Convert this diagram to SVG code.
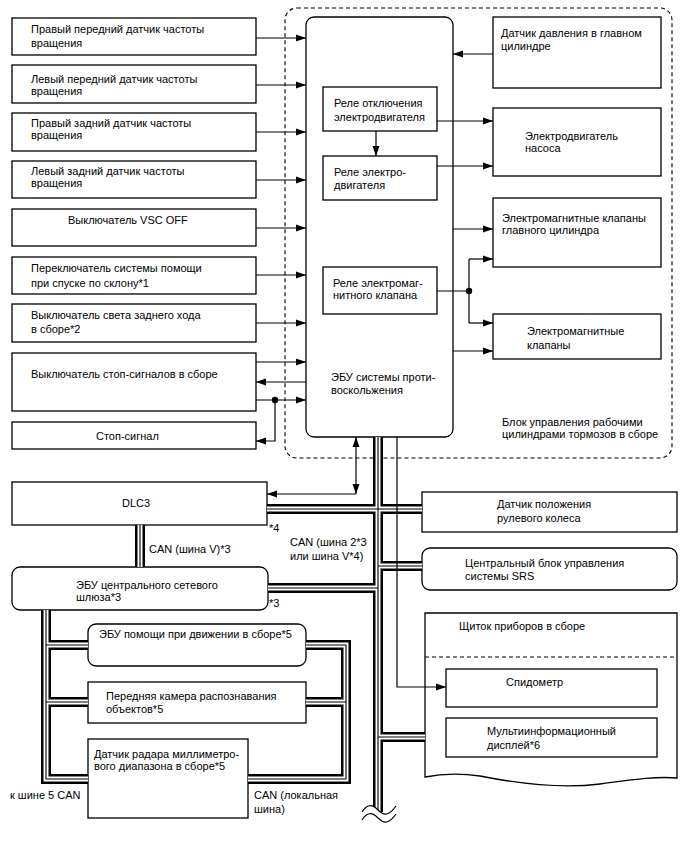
<svg xmlns="http://www.w3.org/2000/svg" width="688" height="852" viewBox="0 0 688 852">
<defs>
<marker id="ah" markerUnits="userSpaceOnUse" markerWidth="11" markerHeight="8" refX="10" refY="4" orient="auto-start-reverse"><path d="M0,0.5 L10,4 L0,7.5 z" fill="#000"/></marker>
<style>
.box{fill:#fff;stroke:#000;stroke-width:1.3}
.t{font-family:"Liberation Sans",Arial,sans-serif;font-size:11px;fill:#000}
.ln{fill:none;stroke:#000;stroke-width:1.2}
.arr{marker-end:url(#ah)}
.bb{fill:none;stroke:#000;stroke-width:10}
.bw{fill:none;stroke:#fff;stroke-width:5}
.bc{fill:none;stroke:#000;stroke-width:1.1}
.dash{fill:none;stroke:#000;stroke-width:1.1;stroke-dasharray:4,3}
</style>
</defs>
<rect width="688" height="852" fill="#fff"/>

<g id="brake-actuator-boundary">
<rect class="dash" x="285" y="8" width="387" height="450" rx="12"/>
<text class="t" x="502" y="426">Блок управления рабочими</text>
<text class="t" x="502" y="438">цилиндрами тормозов в сборе</text>
</g>

<g id="ecu-skid">
<rect class="box" x="306" y="17" width="147" height="420" rx="8"/>
<text class="t" x="331" y="381">ЭБУ системы проти-</text>
<text class="t" x="331" y="394">воскольжения</text>
</g>
<g id="relay-motor-cut">
<rect class="box" x="323" y="87" width="114" height="44"/>
<text class="t" x="334" y="107">Реле отключения</text>
<text class="t" x="334" y="121">электродвигателя</text>
</g>
<g id="relay-motor">
<rect class="box" x="323" y="156" width="114" height="44"/>
<text class="t" x="334" y="176">Реле электро-</text>
<text class="t" x="334" y="189">двигателя</text>
</g>
<g id="relay-solenoid">
<rect class="box" x="323" y="267" width="114" height="47"/>
<text class="t" x="333" y="287">Реле электромаг-</text>
<text class="t" x="333" y="299">нитного клапана</text>
</g>

<g id="fr-speed">
<rect class="box" x="12" y="18" width="244" height="37"/>
<text class="t" x="31" y="33">Правый передний датчик частоты</text>
<text class="t" x="31" y="47">вращения</text>
</g>
<g id="fl-speed">
<rect class="box" x="12" y="65" width="244" height="38"/>
<text class="t" x="31" y="83">Левый передний датчик частоты</text>
<text class="t" x="31" y="95">вращения</text>
</g>
<g id="rr-speed">
<rect class="box" x="12" y="113" width="244" height="38"/>
<text class="t" x="31" y="127">Правый задний датчик частоты</text>
<text class="t" x="31" y="139">вращения</text>
</g>
<g id="rl-speed">
<rect class="box" x="12" y="161" width="244" height="37"/>
<text class="t" x="31" y="175">Левый задний датчик частоты</text>
<text class="t" x="31" y="187">вращения</text>
</g>
<g id="vsc-off">
<rect class="box" x="12" y="209" width="244" height="37"/>
<text class="t" x="68" y="224">Выключатель VSC OFF</text>
</g>
<g id="hill-descent">
<rect class="box" x="12" y="257" width="244" height="37"/>
<text class="t" x="31" y="272">Переключатель системы помощи</text>
<text class="t" x="31" y="287">при спуске по склону*1</text>
</g>
<g id="backup-light">
<rect class="box" x="12" y="304" width="244" height="38"/>
<text class="t" x="31" y="319">Выключатель света заднего хода</text>
<text class="t" x="31" y="333">в сборе*2</text>
</g>
<g id="stop-switch">
<rect class="box" x="12" y="353" width="244" height="58"/>
<text class="t" x="31" y="378">Выключатель стоп-сигналов в сборе</text>
</g>
<g id="stop-light">
<rect class="box" x="12" y="422" width="244" height="27"/>
<text class="t" x="96" y="440">Стоп-сигнал</text>
</g>

<g id="mc-pressure">
<rect class="box" x="493" y="17" width="168" height="71"/>
<text class="t" x="501" y="37">Датчик давления в главном</text>
<text class="t" x="501" y="50">цилиндре</text>
</g>
<g id="pump-motor">
<rect class="box" x="493" y="108" width="168" height="68"/>
<text class="t" x="525" y="140">Электродвигатель</text>
<text class="t" x="525" y="152">насоса</text>
</g>
<g id="mc-solenoids">
<rect class="box" x="493" y="198" width="168" height="69"/>
<text class="t" x="502" y="222">Электромагнитные клапаны</text>
<text class="t" x="502" y="234">главного цилиндра</text>
</g>
<g id="solenoids">
<rect class="box" x="493" y="314" width="168" height="45"/>
<text class="t" x="527" y="335">Электромагнитные</text>
<text class="t" x="527" y="349">клапаны</text>
</g>

<g id="dlc3">
<rect class="box" x="12" y="482" width="255" height="43"/>
<text class="t" x="122" y="507">DLC3</text>
</g>
<g id="gateway">
<rect class="box" x="12" y="567" width="256" height="43" rx="8"/>
<text class="t" x="76" y="589">ЭБУ центрального сетевого</text>
<text class="t" x="76" y="601">шлюза*3</text>
</g>
<g id="steering-sensor">
<rect class="box" x="422" y="492" width="255" height="40"/>
<text class="t" x="497" y="508">Датчик положения</text>
<text class="t" x="497" y="522">рулевого колеса</text>
</g>
<g id="srs">
<rect class="box" x="422" y="548" width="255" height="42" rx="8"/>
<text class="t" x="465" y="567">Центральный блок управления</text>
<text class="t" x="465" y="580">системы SRS</text>
</g>
<g id="instrument-panel">
<path class="box" d="M425,613 H677 V778 C655,776 630,780 600,784 C560,789 520,784 480,776 C460,773 440,774 425,777 Z"/>
<line x1="425" y1="657" x2="677" y2="657" stroke="#000" stroke-width="1.1" stroke-dasharray="4,3"/>
<text class="t" x="459" y="630">Щиток приборов в сборе</text>
</g>
<g id="speedometer">
<rect class="box" x="446" y="669" width="211" height="38"/>
<text class="t" x="506" y="686">Спидометр</text>
</g>
<g id="multi-display">
<rect class="box" x="446" y="718" width="211" height="39"/>
<text class="t" x="487" y="735">Мультиинформационный</text>
<text class="t" x="487" y="749">дисплей*6</text>
</g>
<g id="driving-support">
<rect class="box" x="88" y="624" width="218" height="42" rx="8"/>
<text class="t" x="99" y="638">ЭБУ помощи при движении в сборе*5</text>
</g>
<g id="front-camera">
<rect class="box" x="88" y="682" width="218" height="41"/>
<text class="t" x="106" y="700">Передняя камера распознавания</text>
<text class="t" x="106" y="713">объектов*5</text>
</g>
<g id="radar">
<rect class="box" x="88" y="739" width="160" height="79"/>
<text class="t" x="94" y="758">Датчик радара миллиметро-</text>
<text class="t" x="94" y="770">вого диапазона в сборе*5</text>
</g>

<g id="connectors">
<path class="ln arr" d="M256,38 H306"/>
<path class="ln arr" d="M256,85 H306"/>
<path class="ln arr" d="M256,132 H306"/>
<path class="ln arr" d="M256,180 H306"/>
<path class="ln arr" d="M256,228 H306"/>
<path class="ln arr" d="M256,275 H306"/>
<path class="ln arr" d="M256,323 H306"/>
<path class="ln arr" d="M256,362 H306"/>
<path class="ln arr" d="M306,382 H256"/>
<path class="ln arr" d="M256,400 H306"/>
<path class="ln arr" d="M275,400 V441 H256"/>
<circle cx="275" cy="400" r="3.2" fill="#000"/>
<path class="ln arr" d="M493,54 H453"/>
<path class="ln arr" d="M376,131 V156"/>
<path class="ln arr" d="M437,121 H493"/>
<path class="ln arr" d="M437,166 H493"/>
<path class="ln arr" d="M453,229 H493"/>
<path class="ln" d="M437,291 H469 M469,259 V323"/>
<path class="ln arr" d="M469,259 H493"/>
<path class="ln arr" d="M469,323 H493"/>
<circle cx="469" cy="291" r="3.2" fill="#000"/>
<path class="ln arr" d="M453,351 H493"/>
<path class="ln arr" d="M356,494 V437" style="marker-start:url(#ah)"/>
<path class="ln" d="M356,494 H267" style="marker-end:url(#ah)"/>
<g id="can-bus">
<path class="bb" d="M378,437 V812 M267,509 H422 M268,588 H378 M378,566 H422 M378,737 H425 M140,525 V567 M46,610 V779 H88 M46,645 H88 M46,702 H88 M306,645 H346 V779 H248 M306,702 H346"/>
<path class="bw" d="M378,437 V812 M267,509 H422 M268,588 H378 M378,566 H422 M378,737 H425 M140,525 V567 M46,610 V779 H88 M46,645 H88 M46,702 H88 M306,645 H346 V779 H248 M306,702 H346"/>
<path class="bc" d="M378,437 V812 M267,509 H422 M268,588 H378 M378,566 H422 M378,737 H425 M140,525 V567 M46,610 V779 H88 M46,645 H88 M46,702 H88 M306,645 H346 V779 H248 M306,702 H346"/>
<path d="M362,812 C367,804 372,804 378,810 C384,816 389,816 396,806 L396,814 C389,824 384,824 378,818 C372,812 367,812 362,820 Z" fill="#fff" stroke="none"/>
<path class="ln" d="M362,812 C367,804 372,804 378,810 C384,816 389,816 396,806"/>
<path class="ln" d="M362,820 C367,812 372,812 378,818 C384,824 389,824 396,814"/>
</g>
<path class="ln arr" d="M397,437 V687 H446"/>
</g>

<g id="labels">
<text class="t" x="269" y="532">*4</text>
<text class="t" x="269" y="607">*3</text>
<text class="t" x="149" y="553">CAN (шина V)*3</text>
<text class="t" x="290" y="546">CAN (шина 2*3</text>
<text class="t" x="290" y="560">или шина V*4)</text>
<text class="t" x="10" y="799">к шине 5 CAN</text>
<text class="t" x="254" y="799">CAN (локальная</text>
<text class="t" x="254" y="813">шина)</text>
</g>
</svg>
